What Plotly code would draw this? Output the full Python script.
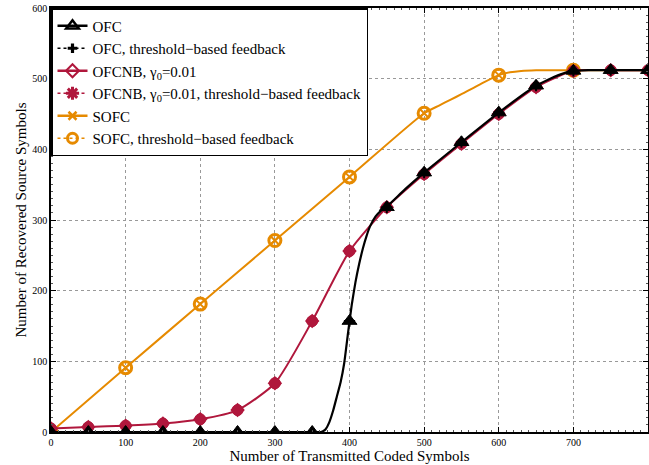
import plotly.graph_objects as go

# ---- data ----
x_marks = [0, 50, 100, 150, 200, 250, 300, 350, 400, 450, 500, 550, 600, 650, 700, 750, 800]
ofc_marks = [0, 0, 0, 0, 0, 0, 0, 0, 157, 318, 367, 410, 452, 490, 511, 512, 512]

ofc_x = [0, 50, 100, 150, 200, 250, 300, 350, 362, 368, 373, 378, 383, 388, 393, 398, 403,
         408, 413, 418, 423, 428, 435, 442, 450, 475, 500, 550, 600, 650, 680, 700, 720, 800]
ofc_y = [0, 0, 0, 0, 0, 0, 0, 0, 0, 4, 14, 30, 50, 70, 98, 140, 180,
         212, 238, 260, 278, 292, 305, 313, 319, 344, 367, 410, 452, 490, 505, 511, 512, 512]

ofcnb_y = [5, 7, 9, 12, 18, 31, 69, 157, 256, 318, 365, 408, 450, 488, 511, 512, 512]

sofc_x = [0, 100, 200, 300, 400, 500, 520, 535, 550, 575, 600, 615, 630, 650, 700, 800]
sofc_y = [0, 91, 181, 271, 361, 451, 462, 470, 478, 492, 505, 509, 511, 512, 512, 512]
sofc_mx = [0, 100, 200, 300, 400, 500, 600, 700]
sofc_my = [0, 91, 181, 271, 361, 451, 505, 512]

legend_names = [
    "OFC",
    "OFC, threshold−based feedback",
    "OFCNB, γ<sub>0</sub>=0.01",
    "OFCNB, γ<sub>0</sub>=0.01, threshold−based feedback",
    "SOFC",
    "SOFC, threshold−based feedback",
]

BLACK = "#000000"
RED = "#b0173c"
ORANGE = "#e68a00"
SERIF = "Liberation Serif, Times New Roman, serif"

fig = go.Figure()

# data traces (no legend)
fig.add_trace(go.Scatter(x=sofc_x, y=sofc_y, mode="lines", line=dict(color=ORANGE, width=2, shape="spline", smoothing=0.6), showlegend=False))
fig.add_trace(go.Scatter(x=sofc_mx, y=sofc_my, mode="markers", marker=dict(symbol="x-thin-open", size=8, color=ORANGE, line=dict(color=ORANGE, width=2)), showlegend=False))
fig.add_trace(go.Scatter(x=sofc_mx, y=sofc_my, mode="markers", marker=dict(symbol="circle-open", size=12, color=ORANGE, line=dict(color=ORANGE, width=3)), showlegend=False))

fig.add_trace(go.Scatter(x=x_marks, y=ofcnb_y, mode="lines", line=dict(color=RED, width=2, shape="spline", smoothing=0.6), showlegend=False))
fig.add_trace(go.Scatter(x=x_marks, y=ofcnb_y, mode="markers", marker=dict(symbol="diamond-open", size=9, color=RED, line=dict(color=RED, width=2)), showlegend=False))
fig.add_trace(go.Scatter(x=x_marks, y=ofcnb_y, mode="markers", marker=dict(symbol="circle", size=11, color=RED, line=dict(color=RED, width=1)), showlegend=False))

fig.add_trace(go.Scatter(x=ofc_x, y=ofc_y, mode="lines", line=dict(color=BLACK, width=2.2, shape="spline", smoothing=0.5), showlegend=False))
fig.add_trace(go.Scatter(x=x_marks, y=ofc_marks, mode="markers", marker=dict(symbol="cross-thin-open", size=8, color=BLACK, line=dict(color=BLACK, width=2)), showlegend=False))
fig.add_trace(go.Scatter(x=x_marks, y=ofc_marks, mode="markers", marker=dict(symbol="triangle-up", size=13, color=BLACK, line=dict(color=BLACK, width=1)), showlegend=False))

# legend-only traces
leg_styles = [
    dict(line=dict(color=BLACK, width=2.5), marker=dict(symbol="triangle-up-open", size=11, color=BLACK, line=dict(color=BLACK, width=2.5))),
    dict(line=dict(color=BLACK, width=1.5, dash="dot"), marker=dict(symbol="cross", size=8, color=BLACK, line=dict(width=0))),
    dict(line=dict(color=RED, width=2.5), marker=dict(symbol="diamond-open", size=10, color=RED, line=dict(color=RED, width=2))),
    dict(line=dict(color=RED, width=1.5, dash="dot"), marker=dict(symbol="asterisk-open", size=11, color=RED, line=dict(color=RED, width=3))),
    dict(line=dict(color=ORANGE, width=2.5), marker=dict(symbol="x-thin-open", size=8, color=ORANGE, line=dict(color=ORANGE, width=2.5))),
    dict(line=dict(color=ORANGE, width=1.5, dash="dot"), marker=dict(symbol="circle-open", size=10, color=ORANGE, line=dict(color=ORANGE, width=3))),
]
for name, st in zip(legend_names, leg_styles):
    fig.add_trace(go.Scatter(x=[None], y=[None], mode="lines+markers", name=name, **st))

axis_common = dict(
    showline=True, linecolor="black", linewidth=1.5, mirror="ticks",
    ticks="inside", ticklen=5, tickwidth=1, tickcolor="black",
    showgrid=True, gridcolor="#999999", griddash="dot", gridwidth=1,
    zeroline=False, automargin=False,
    tickfont=dict(family=SERIF, size=10, color="black"),
    minor=dict(ticks="inside", ticklen=2.5, tickcolor="#555555", dtick=10, showgrid=False),
)

fig.update_layout(
    width=649, height=465,
    margin=dict(l=51, r=1, t=8, b=33),
    plot_bgcolor="white", paper_bgcolor="white",
    font=dict(family=SERIF, color="black"),
    xaxis=dict(range=[0, 800], dtick=100,
               title=dict(text="Number of Transmitted Coded Symbols", font=dict(family=SERIF, size=15), standoff=0), **axis_common),
    yaxis=dict(range=[0, 600], dtick=100,
               title=dict(text="Number of Recovered Source Symbols", font=dict(family=SERIF, size=15), standoff=2), **axis_common),
    legend=dict(x=0, y=1, xanchor="left", yanchor="top", bgcolor="white",
                bordercolor="black", borderwidth=1.5,
                font=dict(family=SERIF, size=15, color="black"),
                tracegroupgap=0),
)

fig.write_html("out.html", config={"displayModeBar": False},
               post_script="document.body.style.margin='0';")
